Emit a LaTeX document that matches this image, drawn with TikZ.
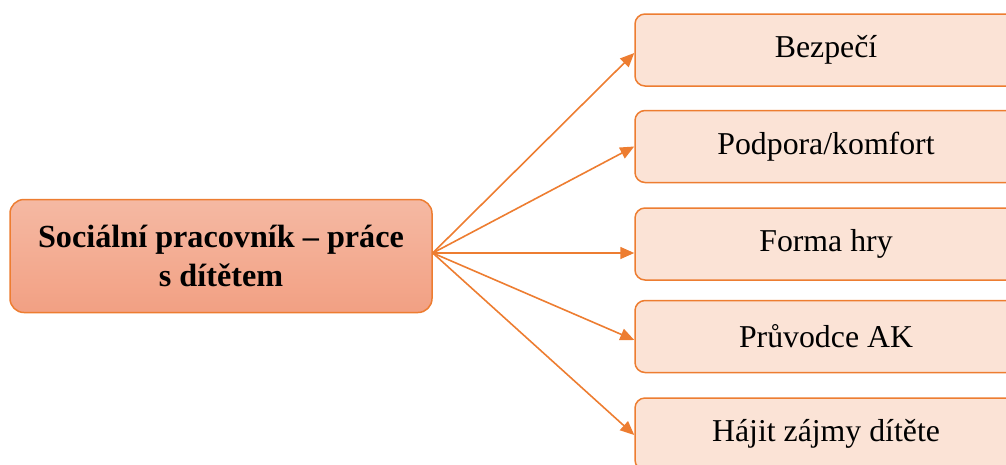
\documentclass[tikz,border=0pt]{standalone}
\usepackage{fontspec}
\setmainfont{Liberation Serif}
\usetikzlibrary{arrows.meta,calc}
\definecolor{orangeline}{HTML}{ED7D31}
\definecolor{boxfill}{HTML}{FBE3D6}
\definecolor{gradtop}{HTML}{F5B9A3}
\definecolor{gradbot}{HTML}{F2A083}
\begin{document}
\begin{tikzpicture}[x=1pt,y=-1pt,
  srcbox/.style={draw=orangeline, line width=1.5pt, rounded corners=14pt, top color=gradtop, bottom color=gradbot, minimum width=422pt, minimum height=113pt, align=center, font=\fontsize{32.2}{39.5}\selectfont\bfseries, inner sep=0pt},
  itembox/.style={draw=orangeline, line width=1.5pt, fill=boxfill, rounded corners=10pt, minimum width=382pt, minimum height=72pt, font=\fontsize{31.8}{38}\selectfont, inner sep=0pt},
  arr/.style={draw=orangeline, line width=1.6pt, -{Triangle[length=14pt,width=12pt]}}]
\useasboundingbox (0,0) rectangle (1006,464);
\node[srcbox] (src) at (221,256) {Sociální pracovník – práce\\s dítětem};
\node[itembox] (b1) at (826,50) {Bezpečí};
\node[itembox] (b2) at (826,146.5) {Podpora/komfort};
\node[itembox] (b3) at (826,244) {Forma hry};
\node[itembox] (b4) at (826,336.5) {Průvodce AK};
\node[itembox] (b5) at (826,434) {Hájit zájmy dítěte};
\coordinate (hub) at ([yshift=3pt]src.east);
\draw[arr] (hub) -- ([yshift=-3pt]b1.west);
\draw[arr] (hub) -- (b2.west);
\draw[arr] (hub) -- (b3.west |- hub);
\draw[arr] (hub) -- ([yshift=-3.5pt]b4.west);
\draw[arr] (hub) -- ([yshift=-1pt]b5.west);
\end{tikzpicture}
\end{document}
